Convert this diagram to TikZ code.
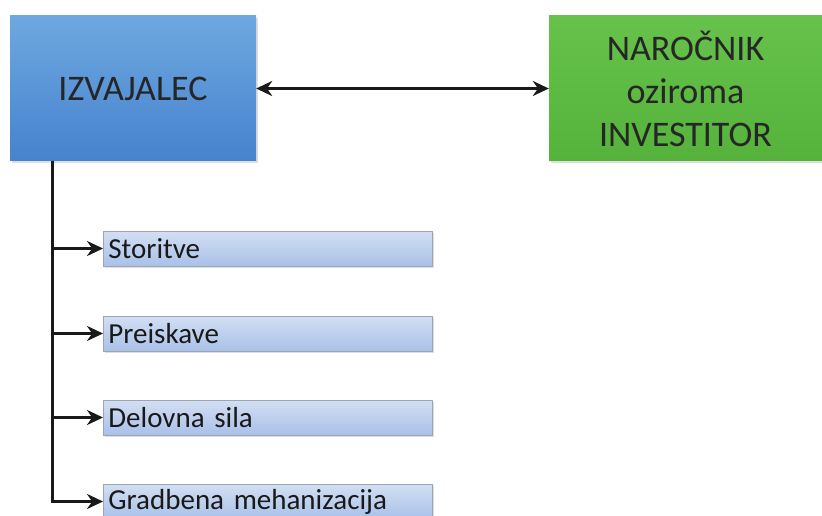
\documentclass[tikz,border=0pt]{standalone}
\usepackage{fontspec}
\setmainfont{Carlito}
\usetikzlibrary{arrows.meta,shadows,positioning}

\definecolor{izvtop}{HTML}{6EA8E0}
\definecolor{izvbot}{HTML}{4682CE}
\definecolor{nartop}{HTML}{66C24A}
\definecolor{narbot}{HTML}{55B23A}
\definecolor{itemtop}{HTML}{D3DFF3}
\definecolor{itembot}{HTML}{A9C0E8}
\definecolor{itemline}{HTML}{9AA6B8}

\begin{document}
\begin{tikzpicture}[x=1pt,y=1pt,
    bigbox/.style={rectangle, minimum height=145pt, align=center,
      font=\fontsize{36}{43}\selectfont, text=black!85,
      drop shadow={shadow xshift=2pt, shadow yshift=-2pt, fill=black!25}},
    itembox/.style={rectangle, draw=itemline, line width=0.8pt,
      top color=itemtop, bottom color=itembot,
      minimum width=329pt, minimum height=35pt, inner xsep=5pt,
      text width=319pt, align=left, anchor=west,
      font=\fontsize{29}{32}\selectfont, text=black!90,
      drop shadow={shadow xshift=2pt, shadow yshift=-2pt, fill=black!25}},
    conn/.style={line width=3pt, black!90, -{Stealth[length=16pt,width=15pt]}}]
  \useasboundingbox (0,0) rectangle (822,-516);
  \fill[white] (0,0) rectangle (822,-516);

  % the two parties, joined by a two-way arrow
  \node[bigbox, minimum width=246pt, top color=izvtop, bottom color=izvbot]
    (izvajalec) at (133,-88.5) {IZVAJALEC};
  \node[bigbox, minimum width=273pt, top color=nartop, bottom color=narbot]
    (narocnik) at (685.5,-88.5) {NAROČNIK\\oziroma\\INVESTITOR};
  \draw[line width=3pt, black!90, {Stealth[length=16pt,width=15pt]}-{Stealth[length=16pt,width=15pt]}]
    (izvajalec) -- (narocnik);

  % what the contractor provides
  \node[itembox] (storitve) at (103,-248.5) {Storitve};
  \node[itembox] (preiskave) at (103,-333.5) {Preiskave};
  \node[itembox] (delovna) at (103,-417.5) {Delovna sila};
  \node[itembox] (mehanizacija) at (103,-501.5) {Gradbena mehanizacija};

  % trunk from the bottom of IZVAJALEC, one branch per item
  \coordinate (trunk) at (52,-161);
  \draw[conn] (trunk) |- (storitve.west);
  \draw[conn] (trunk) |- (preiskave.west);
  \draw[conn] (trunk) |- (delovna.west);
  \draw[conn] (trunk) |- (mehanizacija.west);
\end{tikzpicture}
\end{document}
